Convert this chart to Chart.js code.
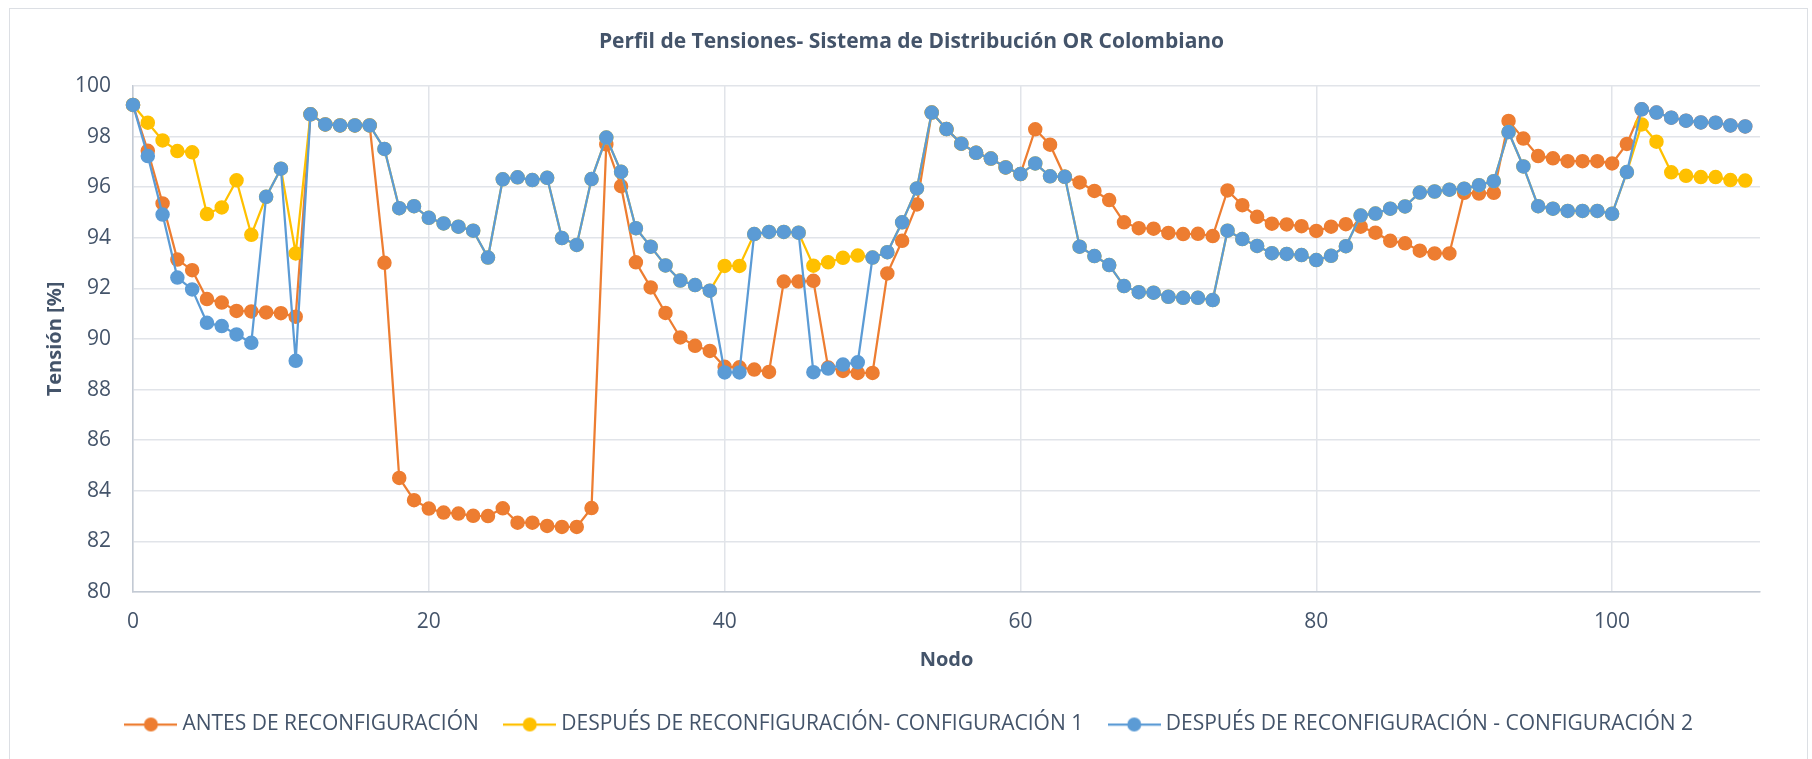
<!DOCTYPE html>
<html>
<head>
<meta charset="utf-8">
<script src="https://cdn.jsdelivr.net/npm/chart.js@4.4.1/dist/chart.umd.min.js"></script>
<style>
html,body{margin:0;padding:0;background:#fff;overflow:hidden;width:1812px;height:759px}
#frame{position:absolute;left:9px;top:8px;width:1799px;height:800px;border:1px solid #dcdfe4;box-sizing:border-box}
#c{position:absolute;left:0;top:0}
</style>
</head>
<body>
<div id="frame"></div>
<canvas id="c" width="1812" height="759"></canvas>
<script>
const chartTitle = 'Perfil de Tensiones- Sistema de Distribución OR Colombiano';
const xTitle = 'Nodo';
const yTitle = 'Tensión [%]';
const seriesNames = ['ANTES DE RECONFIGURACIÓN', 'DESPUÉS DE RECONFIGURACIÓN- CONFIGURACIÓN 1', 'DESPUÉS DE RECONFIGURACIÓN - CONFIGURACIÓN 2'];
const seriesColors = ['#ED7D31', '#FFC000', '#5B9BD5'];
const xTickLabels = [0, 20, 40, 60, 80, 100];
const yTickLabels = [80, 82, 84, 86, 88, 90, 92, 94, 96, 98, 100];

const nodes = [0,1,2,3,4,5,6,7,8,9,10,11,12,13,14,15,16,17,18,19,20,21,22,23,24,25,26,27,28,29,30,31,32,33,34,35,36,37,38,39,40,41,42,43,44,45,46,47,48,49,50,51,52,53,54,55,56,57,58,59,60,61,62,63,64,65,66,67,68,69,70,71,72,73,74,75,76,77,78,79,80,81,82,83,84,85,86,87,88,89,90,91,92,93,94,95,96,97,98,99,100,101,102,103,104,105,106,107,108,109];

const antes = [99.25,97.44,95.36,93.14,92.72,91.58,91.44,91.11,91.09,91.05,91.02,90.88,98.88,98.48,98.44,98.44,98.44,93.01,84.51,83.63,
83.30,83.14,83.10,83.01,83.00,83.31,82.74,82.74,82.61,82.57,82.57,83.32,97.69,96.04,93.03,92.04,91.03,90.06,89.73,89.53,
88.90,88.88,88.79,88.70,92.27,92.27,92.30,88.87,88.74,88.66,88.66,92.59,93.88,95.32,98.95,98.30,97.72,97.36,97.13,96.78,
96.52,98.29,97.68,96.41,96.19,95.85,95.49,94.61,94.38,94.36,94.19,94.15,94.16,94.07,95.87,95.29,94.83,94.56,94.53,94.46,
94.27,94.44,94.54,94.44,94.20,93.88,93.78,93.49,93.38,93.38,95.78,95.75,95.78,98.62,97.92,97.23,97.14,97.03,97.03,97.03,
96.94,97.71,99.08,98.95,98.75,98.63,98.56,98.55,98.44,98.40];

const config1 = [99.25,98.55,97.85,97.43,97.38,94.94,95.20,96.27,94.12,95.62,96.73,93.38,98.88,98.48,98.44,98.44,98.44,97.51,95.17,95.25,
94.79,94.57,94.44,94.28,93.22,96.31,96.39,96.28,96.37,93.99,93.72,96.32,97.96,96.61,94.38,93.65,92.91,92.31,92.13,91.91,
92.89,92.89,94.15,94.23,94.23,94.20,92.90,93.03,93.21,93.30,93.22,93.43,94.61,95.95,98.95,98.30,97.72,97.36,97.13,96.78,
96.52,96.94,96.43,96.41,93.65,93.28,92.92,92.09,91.85,91.83,91.67,91.63,91.63,91.54,94.28,93.95,93.68,93.39,93.36,93.32,
93.12,93.29,93.67,94.88,94.96,95.15,95.24,95.79,95.83,95.90,95.94,96.08,96.24,98.18,96.82,95.25,95.15,95.06,95.06,95.06,
94.95,96.60,98.48,97.80,96.59,96.45,96.40,96.40,96.28,96.26];

const config2 = [99.25,97.23,94.92,92.43,91.96,90.64,90.51,90.18,89.85,95.62,96.73,89.14,98.88,98.48,98.44,98.44,98.44,97.51,95.17,95.25,
94.79,94.57,94.44,94.28,93.22,96.31,96.39,96.28,96.37,93.99,93.72,96.32,97.96,96.61,94.38,93.65,92.91,92.31,92.13,91.91,
88.68,88.68,94.15,94.23,94.23,94.20,88.69,88.83,88.99,89.08,93.22,93.43,94.61,95.95,98.95,98.30,97.72,97.36,97.13,96.78,
96.52,96.94,96.43,96.41,93.65,93.28,92.92,92.09,91.85,91.83,91.67,91.63,91.63,91.54,94.28,93.95,93.68,93.39,93.36,93.32,
93.12,93.29,93.67,94.88,94.96,95.15,95.24,95.79,95.83,95.90,95.94,96.08,96.24,98.18,96.82,95.25,95.15,95.06,95.06,95.06,
94.95,96.60,99.08,98.95,98.75,98.63,98.56,98.55,98.44,98.40];

const seriesValues = [antes, config1, config2];
const textColor = '#44546A';
const FONT = "'Open Sans', 'Liberation Sans', sans-serif";

function legendIcon(color) {
  const c = document.createElement('canvas');
  c.width = 53; c.height = 16;
  const g = c.getContext('2d');
  g.strokeStyle = color; g.lineWidth = 2.25;
  g.beginPath(); g.moveTo(0, 8); g.lineTo(53, 8); g.stroke();
  g.fillStyle = color;
  g.beginPath(); g.arc(26.5, 8, 7, 0, Math.PI * 2); g.fill();
  return c;
}
const icons = seriesColors.map(legendIcon);

const datasets = seriesValues.map((vals, i) => ({
  label: seriesNames[i],
  data: nodes.map((n, k) => ({x: n, y: vals[k]})),
  borderColor: seriesColors[i],
  backgroundColor: seriesColors[i],
  pointBackgroundColor: seriesColors[i],
  pointBorderColor: seriesColors[i],
  borderWidth: 2.25,
  pointRadius: 6.5,
  pointBorderWidth: 1.5,
  pointHoverRadius: 6.5,
  tension: 0,
  clip: false,
  order: 3 - i
}));

function build() {
  new Chart(document.getElementById('c'), {
    type: 'line',
    data: {datasets},
    options: {
      responsive: false,
      animation: false,
      devicePixelRatio: 1,
      events: [],
      layout: {padding: {left: 63, right: 52, top: 0, bottom: 14}},
      plugins: {
        tooltip: {enabled: false},
        title: {
          display: true,
          text: chartTitle,
          color: textColor,
          font: {family: FONT, size: 21, weight: 'bold'},
          padding: {top: 29.4, bottom: 31.4}
        },
        legend: {
          position: 'bottom',
          labels: {
            usePointStyle: true,
            pointStyleWidth: 42,
            padding: 30,
            color: textColor,
            font: {family: FONT, size: 21},
            generateLabels: (chart) => chart.data.datasets.map((ds, i) => ({
              text: ds.label,
              pointStyle: icons[i],
              fillStyle: ds.backgroundColor,
              strokeStyle: ds.borderColor,
              lineWidth: 0,
              fontColor: textColor,
              hidden: !chart.isDatasetVisible(i),
              datasetIndex: i
            }))
          }
        }
      },
      scales: {
        x: {
          type: 'linear',
          min: 0,
          max: 110,
          afterFit: (s) => { s.height = 92; },
          afterBuildTicks: (s) => { s.ticks = xTickLabels.map(v => ({value: v})); },
          ticks: {stepSize: 20, includeBounds: false, color: textColor, padding: 17.4, maxRotation: 0,
                  font: {family: FONT, size: 21}},
          grid: {color: '#e1e4e9', lineWidth: 1.5, drawTicks: false},
          border: {display: true, color: '#c3cad4', width: 1.5},
          title: {display: true, text: xTitle, color: textColor,
                  font: {family: FONT, size: 20, weight: 'bold'}, padding: {top: 0, bottom: 12}}
        },
        y: {
          min: 80,
          max: 100,
          afterFit: (s) => { s.width = 70; },
          afterBuildTicks: (s) => { s.ticks = yTickLabels.map(v => ({value: v})); },
          ticks: {stepSize: 2, color: textColor, padding: 22, font: {family: FONT, size: 21}},
          grid: {color: '#e1e4e9', lineWidth: 1.5, drawTicks: false},
          border: {display: true, color: '#c3cad4', width: 1.5},
          title: {display: true, text: yTitle, color: textColor,
                  font: {family: FONT, size: 20, weight: 'bold'}, padding: {top: -20, bottom: 0}}
        }
      }
    }
  });
}

const fontLoads = document.fonts ? Promise.all([
  document.fonts.load("21px 'Open Sans'"),
  document.fonts.load("bold 21px 'Open Sans'")
]).catch(() => null) : Promise.resolve();
fontLoads.then(build, build);
</script>
</body>
</html>
